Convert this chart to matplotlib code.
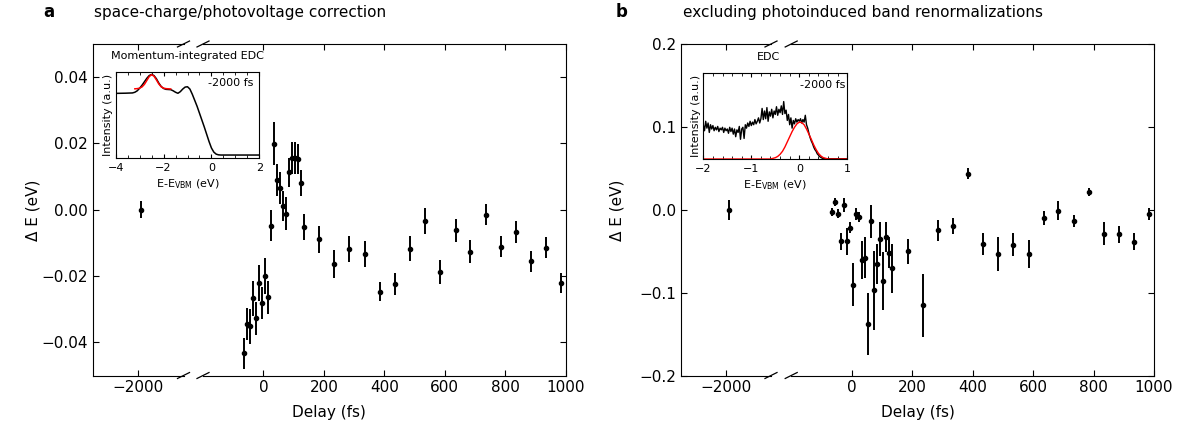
import numpy as np
import matplotlib.pyplot as plt

# main panel a: space-charge/photovoltage correction
delay_a = [-1990, -65, -55, -45, -35, -25, -15, -5, 5, 15, 25, 35, 45, 55, 65, 75,
           85, 95, 105, 115, 125, 135, 184, 235, 284, 335, 385, 435, 485, 535,
           585, 636, 685, 735, 786, 835, 885, 935, 985]
de_a = [0.0, -0.0433, -0.0345, -0.0352, -0.0267, -0.0327, -0.0222, -0.0282, -0.0199,
        -0.0264, -0.0048, 0.0199, 0.0089, 0.0065, 0.0012, -0.0012, 0.0113, 0.0156,
        0.0156, 0.0153, 0.0081, -0.0053, -0.0089, -0.0163, -0.0118, -0.0133,
        -0.0247, -0.0224, -0.0118, -0.0033, -0.0188, -0.0062, -0.0126, -0.0015,
        -0.0111, -0.0067, -0.0156, -0.0114, -0.0221]
err_a = [0.0025, 0.0047, 0.0048, 0.0052, 0.0053, 0.0050, 0.0054, 0.0048, 0.0054,
         0.0050, 0.0047, 0.0065, 0.0048, 0.0049, 0.0046, 0.0049, 0.0044, 0.0048,
         0.0048, 0.0045, 0.0040, 0.0039, 0.0041, 0.0043, 0.0040, 0.0040, 0.0029,
         0.0032, 0.0038, 0.0039, 0.0036, 0.0035, 0.0035, 0.0032, 0.0033, 0.0032,
         0.0033, 0.0031, 0.0030]

# main panel b: excluding photoinduced band renormalizations
delay_b = [-1990, -64, -54, -44, -34, -24, -15, -5, 5, 15, 25, 35, 45, 55, 65, 75,
           85, 95, 104, 114, 124, 134, 185, 235, 284, 334, 384, 434, 485, 535,
           585, 635, 684, 735, 784, 834, 884, 934, 984]
de_b = [0.0, -0.0028, 0.0094, -0.0046, -0.038, 0.0058, -0.038, -0.0215, -0.0904,
        -0.0054, -0.0087, -0.061, -0.0578, -0.1375, -0.0139, -0.0973, -0.0659,
        -0.0356, -0.0864, -0.0329, -0.0517, -0.0707, -0.0498, -0.115, -0.0248,
        -0.020, 0.0437, -0.0417, -0.0534, -0.042, -0.0534, -0.0095, -0.0014,
        -0.0139, 0.0211, -0.0288, -0.0296, -0.0384, -0.0051]
err_b = [0.012, 0.005, 0.0045, 0.0057, 0.010, 0.0089, 0.0165, 0.007, 0.0256, 0.007,
         0.0064, 0.023, 0.025, 0.0375, 0.020, 0.048, 0.024, 0.0203, 0.035, 0.018,
         0.0187, 0.0294, 0.0151, 0.038, 0.0125, 0.0095, 0.0064, 0.0135, 0.020,
         0.0137, 0.0165, 0.0083, 0.0115, 0.0075, 0.0046, 0.0135, 0.0105, 0.010,
         0.007]

# inset a: momentum-integrated EDC at -2000 fs
edc_a_e = [-4.0, -3.6, -3.3, -3.2, -3.1, -3.0, -2.9, -2.8, -2.7, -2.6, -2.5, -2.4,
           -2.3, -2.2, -2.1, -2.0, -1.9, -1.8, -1.7, -1.6, -1.5, -1.4, -1.3, -1.2,
           -1.1, -1.0, -0.9, -0.8, -0.7, -0.6, -0.5, -0.4, -0.3, -0.2, -0.1, 0.0,
           0.1, 0.2, 0.3, 0.4, 2.0]
edc_a_i = [0.755, 0.757, 0.76, 0.768, 0.785, 0.815, 0.85, 0.89, 0.93, 0.962, 0.975,
           0.962, 0.925, 0.875, 0.835, 0.812, 0.802, 0.80, 0.798, 0.785, 0.768,
           0.756, 0.775, 0.805, 0.828, 0.832, 0.805, 0.745, 0.675, 0.605, 0.525,
           0.445, 0.365, 0.28, 0.195, 0.12, 0.072, 0.048, 0.04, 0.038, 0.038]
fit_a_e = [-3.2, -3.1, -3.0, -2.9, -2.8, -2.7, -2.6, -2.5, -2.4, -2.3, -2.2, -2.1,
           -2.0, -1.9, -1.8, -1.7]
fit_a_i = [0.808, 0.81, 0.816, 0.83, 0.86, 0.905, 0.95, 0.972, 0.955, 0.912, 0.865,
           0.832, 0.816, 0.81, 0.808, 0.806]

# inset b: EDC at -2000 fs (0.025 eV steps from -2 to 1)
edc_b_i = [0.40, 0.33, 0.44, 0.36, 0.42, 0.31, 0.40, 0.35, 0.39, 0.33, 0.37, 0.34,
           0.38, 0.32, 0.36, 0.34, 0.37, 0.31, 0.36, 0.33, 0.35, 0.30, 0.37, 0.32,
           0.36, 0.29, 0.35, 0.26, 0.34, 0.31, 0.38, 0.23, 0.35, 0.37, 0.24, 0.40,
           0.36, 0.42, 0.38, 0.44, 0.39, 0.43, 0.40, 0.46, 0.41, 0.44, 0.48, 0.42,
           0.47, 0.59, 0.46, 0.56, 0.47, 0.60, 0.44, 0.55, 0.50, 0.58, 0.48, 0.56,
           0.52, 0.61, 0.51, 0.58, 0.54, 0.62, 0.52, 0.67, 0.53, 0.57, 0.45, 0.52,
           0.40, 0.48, 0.36, 0.45, 0.41, 0.47, 0.43, 0.46, 0.44, 0.47, 0.42, 0.46,
           0.43, 0.51, 0.40, 0.36, 0.30, 0.25, 0.21, 0.18, 0.14, 0.11, 0.09, 0.06,
           0.045, 0.028, 0.018, 0.010, 0.006, 0.004, 0.003, 0.003, 0.003, 0.003,
           0.003, 0.003, 0.003, 0.003, 0.003, 0.003, 0.003, 0.003, 0.003, 0.003,
           0.003, 0.003, 0.003, 0.003, 0.003]
edc_b_e = np.linspace(-2.0, 1.0, len(edc_b_i))
fit_b_e = [-2.0, -0.6, -0.5, -0.45, -0.4, -0.35, -0.3, -0.25, -0.2, -0.15, -0.1,
           -0.05, 0.0, 0.05, 0.1, 0.15, 0.2, 0.25, 0.3, 0.35, 0.4, 0.45, 0.5, 0.6, 1.0]
fit_b_i = [0.0, 0.0, 0.015, 0.03, 0.055, 0.09, 0.14, 0.2, 0.26, 0.32, 0.37, 0.41,
           0.43, 0.425, 0.40, 0.35, 0.29, 0.23, 0.165, 0.11, 0.065, 0.035, 0.016, 0.0, 0.0]

W, H = 1190, 429
plt.rcParams["font.size"] = 11


def box(x0, y0, x1, y1):
    return [x0 / W, 1 - y1 / H, (x1 - x0) / W, (y1 - y0) / H]


def broken_panel(fig, xl, xr, top, bottom, delays, de, err, ylim, yticks):
    axl = fig.add_axes(box(xl[0], top, xl[1], bottom))
    axr = fig.add_axes(box(xr[0], top, xr[1], bottom))
    for ax in (axl, axr):
        ax.errorbar(delays, de, yerr=err, fmt="o", color="k", ms=3,
                    elinewidth=1.4, capsize=0)
        ax.set_ylim(ylim)
        ax.set_yticks(yticks)
        ax.tick_params(direction="in", top=True, length=4, labelsize=11)
    axl.set_xlim(-2150, -1850)
    axl.set_xticks([-2000])
    axl.spines["right"].set_visible(False)
    axl.tick_params(right=False)
    axr.set_xlim(-200, 1000)
    axr.set_xticks([0, 200, 400, 600, 800, 1000])
    axr.spines["left"].set_visible(False)
    axr.tick_params(left=False, labelleft=False, right=True)

    # break marks
    dy = 0.009
    kw = dict(color="k", clip_on=False, lw=0.9)
    dxl = 6 / (xl[1] - xl[0])
    dxr = 6 / (xr[1] - xr[0])
    for y in (0, 1):
        axl.plot([1 - dxl, 1 + dxl], [y - dy, y + dy], transform=axl.transAxes, **kw)
        axr.plot([-dxr, dxr], [y - dy, y + dy], transform=axr.transAxes, **kw)
    return axl, axr


def inset(fig, rect, xlim, major, minor):
    ax = fig.add_axes(rect)
    ax.set_xlim(xlim)
    ax.set_ylim(0, 1)
    ax.set_xticks(major)
    ax.set_xticks(minor, minor=True)
    ax.set_yticks([])
    ax.tick_params(which="both", direction="in", top=True, labelsize=8)
    ax.tick_params(which="major", length=3)
    ax.tick_params(which="minor", length=2)
    ax.set_xlabel(r"E-E$_{\mathrm{VBM}}$ (eV)", fontsize=8, labelpad=3)
    ax.set_ylabel("Intensity (a.u.)", fontsize=8, labelpad=2)
    return ax


fig = plt.figure(figsize=(W / 100, H / 100), dpi=100)

# panel a
broken_panel(fig, (93, 183.5), (203, 565.6), 44, 375.5, delay_a, de_a, err_a,
             (-0.05, 0.05), [-0.04, -0.02, 0.0, 0.02, 0.04])
fig.text(33 / W, 1 - 210 / H, "Δ E (eV)", rotation=90, ha="center", va="center")
fig.text(329 / W, 1 - 413 / H, "Delay (fs)", ha="center", va="center")
fig.text(43 / W, 1 - 17.3 / H, "a", fontsize=12, fontweight="bold", va="baseline")
fig.text(94 / W, 1 - 17.3 / H, "space-charge/photovoltage correction", va="baseline")

ia = inset(fig, box(115.7, 72.3, 259.3, 158.3), (-4, 2), [-4, -2, 0, 2],
           np.arange(-4, 2.01, 0.5))
ia.plot(edc_a_e, edc_a_i, color="k", lw=1.1)
ia.plot(fit_a_e, fit_a_i, color="red", lw=1.1)
ia.text(0.958, 0.87, "-2000 fs", transform=ia.transAxes, ha="right", va="center", fontsize=8)
fig.text(187 / W, 1 - 56 / H, "Momentum-integrated EDC", ha="center", va="center", fontsize=8)

# panel b
broken_panel(fig, (681, 771), (791.2, 1154), 44, 375.5, delay_b, de_b, err_b,
             (-0.2, 0.2), [-0.2, -0.1, 0.0, 0.1, 0.2])
fig.text(617 / W, 1 - 210 / H, "Δ E (eV)", rotation=90, ha="center", va="center")
fig.text(917.5 / W, 1 - 413 / H, "Delay (fs)", ha="center", va="center")
fig.text(616 / W, 1 - 17.3 / H, "b", fontsize=12, fontweight="bold", va="baseline")
fig.text(683 / W, 1 - 17.3 / H, "excluding photoinduced band renormalizations", va="baseline")

ib = inset(fig, box(703.3, 73.3, 847.3, 159), (-2, 1), [-2, -1, 0, 1],
           np.arange(-2, 1.01, 0.2))
ib.plot(edc_b_e, edc_b_i, color="k", lw=1.0)
ib.plot(fit_b_e, fit_b_i, color="red", lw=1.0)
ib.text(0.984, 0.865, "-2000 fs", transform=ib.transAxes, ha="right", va="center", fontsize=8)
fig.text(768 / W, 1 - 57 / H, "EDC", ha="center", va="center", fontsize=8)

fig.savefig("out.png", dpi=100)
